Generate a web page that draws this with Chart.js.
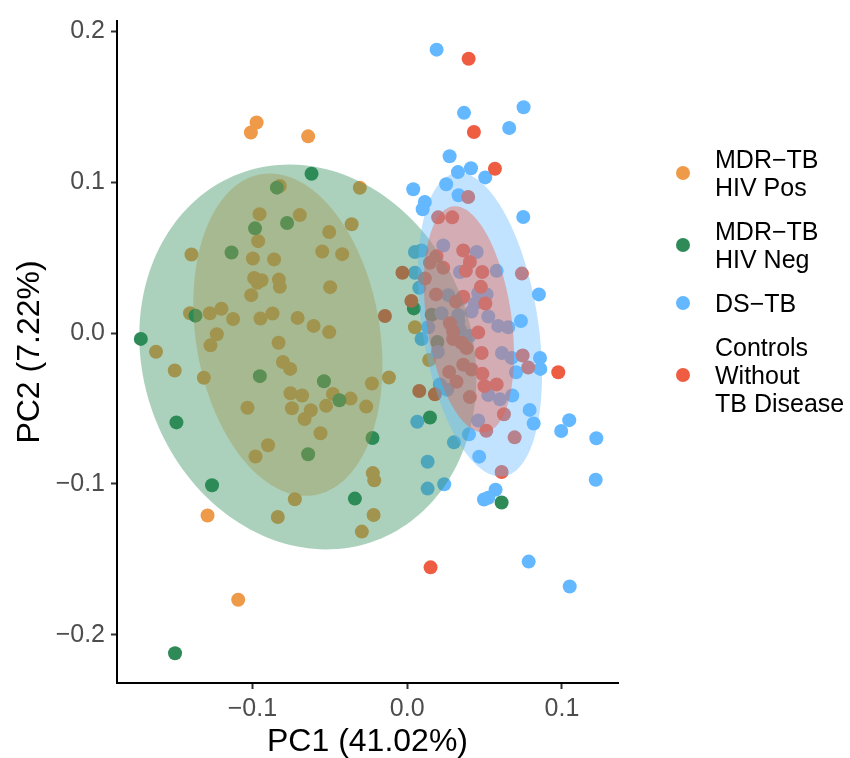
<!DOCTYPE html>
<html>
<head>
<meta charset="utf-8">
<script src="https://cdn.jsdelivr.net/npm/chart.js@4.4.0/dist/chart.umd.min.js"></script>
<style>
  body { margin: 0; background: #fff; }
  #wrap { position: relative; width: 850px; height: 758px; }
  #legend { position: absolute; left: 676px; top: 145px; font-family: "Liberation Sans", Arial, sans-serif; font-size: 25px; color: #000; }
  .row { display: flex; align-items: center; margin-bottom: 16px; }
  .dot { width: 14px; height: 14px; border-radius: 50%; margin-right: 25px; flex: none; }
  .txt { line-height: 28px; white-space: pre-line; }
</style>
</head>
<body>
<div id="wrap">
  <canvas id="myChart" width="850" height="758"></canvas>
  <div id="legend"></div>
</div>
<script>
// groups, in legend order
const groupNames = ['MDR−TB\nHIV Pos', 'MDR−TB\nHIV Neg', 'DS−TB', 'Controls\nWithout\nTB Disease'];
const groupColors = ['#EE9A49', '#2E8B57', '#63B8FF', '#EE5C42'];

// axis ticks
const xTickValues = [-0.1, 0.0, 0.1];
const xTickLabels = ['−0.1', '0.0', '0.1'];
const yTickValues = [-0.2, -0.1, 0.0, 0.1, 0.2];
const yTickLabels = ['−0.2', '−0.1', '0.0', '0.1', '0.2'];

// PC1 / PC2 scores per group
const hivPosX = [-0.0973, -0.1010, -0.0640, -0.1290, -0.1092, -0.0306, -0.0823, -0.0954, -0.0694, -0.0359, -0.0504, -0.0963, -0.1394, -0.0549, -0.0420, -0.0997, -0.0860, -0.0989, -0.0941, -0.0967, -0.0829, -0.0823, -0.0498, -0.1008, -0.1403, -0.1275, -0.1200, -0.1125, -0.0948, -0.0870, -0.0708, -0.0605, -0.0504, -0.1230, -0.1271, -0.0831, -0.1623, -0.1502, -0.1314, -0.0803, -0.0756, -0.0228, -0.0118, -0.0754, -0.0679, -0.0480, -0.0366, -0.1032, -0.0745, -0.0623, -0.0663, -0.0524, -0.0265, -0.0560, -0.0899, -0.0980, -0.0222, -0.0213, -0.0726, -0.0836, -0.0217, -0.0293, 0.0050, 0.0142];
const hivPosY = [0.1397, 0.1331, 0.1305, -0.1209, -0.1768, 0.0964, 0.0976, 0.0789, 0.0783, 0.0722, 0.0671, 0.0610, 0.0522, 0.0541, 0.0524, 0.0495, 0.0489, 0.0366, 0.0351, 0.0334, 0.0355, 0.0307, 0.0305, 0.0252, 0.0132, 0.0132, 0.0162, 0.0094, 0.0097, 0.0130, 0.0101, 0.0048, 0.0007, -0.0007, -0.0081, -0.0064, -0.0123, -0.0248, -0.0296, -0.0191, -0.0237, -0.0334, -0.0294, -0.0399, -0.0413, -0.0403, -0.0434, -0.0495, -0.0498, -0.0511, -0.0570, -0.0482, -0.0487, -0.0664, -0.0743, -0.0818, -0.0928, -0.0976, -0.1101, -0.1219, -0.1206, -0.1316, 0.0039, -0.0178];

const hivNegX = [-0.0618, -0.1721, -0.1491, -0.1261, -0.1500, -0.0338, -0.0224, 0.0147, 0.0610, 0.0043, -0.0842, -0.0983, -0.0776, -0.1135, -0.1368, -0.0952, -0.0538, -0.0438, -0.0640, 0.0158, 0.0195];
const hivNegY = [0.1057, -0.0038, -0.0592, -0.1009, -0.2123, -0.1097, -0.0695, -0.0559, -0.1123, 0.0164, 0.0965, 0.0695, 0.0730, 0.0535, 0.0116, -0.0285, -0.0319, -0.0445, -0.0803, 0.0122, -0.0059];

const dsX = [0.0190, 0.0367, 0.0752, 0.0659, 0.0274, 0.0328, 0.0412, 0.0504, 0.0039, 0.0252, 0.0114, 0.0100, 0.0332, 0.0750, 0.0851, 0.0735, 0.0858, 0.0860, 0.0703, 0.0675, 0.0791, 0.0817, 0.0995, 0.1047, 0.1222, 0.0679, 0.0065, 0.0302, 0.0399, 0.0465, 0.0132, 0.0132, 0.0239, 0.0571, 0.0496, 0.0524, 0.0785, 0.1050, 0.1218, 0.0050, 0.0093, 0.0050, 0.0078, 0.0093, 0.0233, 0.0449, 0.0341, 0.0578, 0.0265, 0.0352, 0.0459, 0.0513, 0.0438, 0.0222, 0.0330, 0.0524, 0.0416, 0.0330, 0.0588, 0.0653, 0.0136, 0.0405, 0.0341, 0.0612, 0.0211, 0.0259, 0.0524, 0.0599, 0.0459, 0.0198];
const dsY = [0.1880, 0.1461, 0.1498, 0.1360, 0.1173, 0.1068, 0.1094, 0.1033, 0.0954, 0.0987, 0.0870, 0.0822, 0.0914, 0.0770, 0.0257, 0.0081, -0.0164, -0.0237, -0.0259, -0.0164, -0.0509, -0.0599, -0.0649, -0.0577, -0.0697, -0.0413, -0.0588, -0.0724, -0.0671, -0.0819, -0.0853, -0.1031, -0.1002, -0.1038, -0.1103, -0.1092, -0.1515, -0.1680, -0.0972, 0.0538, 0.0548, 0.0401, 0.0301, -0.0039, 0.0581, 0.0538, 0.0406, 0.0413, 0.0252, 0.0230, 0.0266, 0.0257, 0.0197, 0.0132, 0.0120, 0.0110, 0.0143, 0.0077, 0.0048, 0.0039, 0.0039, -0.0018, 0.0022, -0.0132, -0.0340, -0.0375, -0.0410, -0.0439, -0.0579, -0.0125];

const ctrlX = [0.0397, 0.0431, 0.0567, 0.0394, 0.0200, 0.0291, 0.0362, 0.0189, 0.0147, 0.0233, 0.0405, 0.0379, 0.0485, 0.0741, -0.0031, 0.0114, 0.0186, 0.0476, 0.0505, 0.0362, 0.0315, 0.0027, 0.0276, -0.0144, 0.0297, 0.0352, 0.0459, 0.0481, 0.0746, 0.0782, 0.0976, 0.0271, 0.0319, 0.0362, 0.0416, 0.0486, 0.0499, 0.0578, 0.0078, 0.0179, 0.0405, 0.0625, 0.0511, 0.0694, 0.0610, 0.0151, 0.0384, 0.0297];
const ctrlY = [0.1820, 0.1334, 0.1090, 0.0903, 0.0768, 0.0768, 0.0548, 0.0510, 0.0467, 0.0434, 0.0472, 0.0413, 0.0406, 0.0395, 0.0401, 0.0362, 0.0257, 0.0307, 0.0197, 0.0241, 0.0209, 0.0214, 0.0066, 0.0114, -0.0039, -0.0066, 0.0005, -0.0132, -0.0148, -0.0228, -0.0259, -0.0257, -0.0322, -0.0209, -0.0241, -0.0270, -0.0351, -0.0340, -0.0384, -0.0406, -0.0424, -0.0538, -0.0647, -0.0691, -0.0921, -0.1553, -0.0099, 0.0011];

// confidence ellipses per group: centre, half extent in x / y, correlation
const ellipseCx = [-0.0771, -0.0642, 0.0470, 0.0399];
const ellipseCy = [-0.0010, -0.0158, 0.0056, 0.0092];
const ellipseSx = [0.0611, 0.1089, 0.0401, 0.0291];
const ellipseSy = [0.1069, 0.1276, 0.1007, 0.0750];
const ellipseR = [-0.19, -0.11, -0.33, -0.31];

const groupX = [hivPosX, hivNegX, dsX, ctrlX];
const groupY = [hivPosY, hivNegY, dsY, ctrlY];
const FONT = '"Liberation Sans", Arial, sans-serif';

// draws the ellipses over the points, like the stat_ellipse layer
const ellipsePlugin = {
    id: 'ellipses',
    afterDatasetsDraw(chart) {
        const {ctx, chartArea, scales: {x, y}} = chart;
        ctx.save();
        ctx.beginPath();
        ctx.rect(chartArea.left, chartArea.top, chartArea.width, chartArea.height);
        ctx.clip();
        ellipseCx.forEach((cx, i) => {
            const sx = ellipseSx[i], sy = ellipseSy[i], r = ellipseR[i];
            ctx.beginPath();
            for (let k = 0; k <= 180; k++) {
                const t = k / 180 * 2 * Math.PI;
                const vx = cx + sx * Math.cos(t);
                const vy = ellipseCy[i] + sy * (r * Math.cos(t) + Math.sqrt(1 - r * r) * Math.sin(t));
                const px = x.getPixelForValue(vx), py = y.getPixelForValue(vy);
                if (k === 0) ctx.moveTo(px, py); else ctx.lineTo(px, py);
            }
            ctx.closePath();
            ctx.globalAlpha = 0.4;
            ctx.fillStyle = groupColors[i];
            ctx.fill();
        });
        ctx.restore();
    }
};

const buildDataset = (i) => ({
    label: groupNames[i].replace(/\n/g, ' '),
    data: groupX[i].map((v, k) => ({x: v, y: groupY[i][k]})),
    backgroundColor: groupColors[i],
    borderWidth: 0,
    pointRadius: 7,
    pointHoverRadius: 7,
    order: groupNames.length - i
});

const axisGrid = {drawOnChartArea: false, drawTicks: true, tickLength: 6, tickWidth: 2, tickColor: '#333333', color: 'rgba(0,0,0,0)'};
const axisBorder = {display: true, color: '#000000', width: 2};

const ctx = document.getElementById('myChart').getContext('2d');
const myChart = new Chart(ctx, {
    type: 'scatter',
    data: {datasets: groupNames.map((n, i) => buildDataset(i))},
    plugins: [ellipsePlugin],
    options: {
        responsive: false,
        animation: false,
        events: [],
        layout: {padding: {top: 15, right: 232, bottom: 0, left: 0}},
        plugins: {legend: {display: false}, tooltip: {enabled: false}},
        scales: {
            x: {
                type: 'linear',
                min: -0.1875,
                max: 0.1362,
                afterBuildTicks: s => { s.ticks = xTickValues.map(v => ({value: v})); },
                afterFit: s => { s.height = 75; },
                ticks: {callback: (v, i) => xTickLabels[i], color: '#4D4D4D', font: {size: 25, family: FONT}, padding: 5, maxRotation: 0, autoSkip: false},
                grid: axisGrid,
                border: axisBorder,
                title: {display: true, text: 'PC1 (41.02%)', color: '#000', font: {size: 32, family: FONT, lineHeight: 1.0}, padding: {top: 0, bottom: 0}}
            },
            y: {
                type: 'linear',
                min: -0.232,
                max: 0.207,
                afterBuildTicks: s => { s.ticks = yTickValues.map(v => ({value: v})); },
                afterFit: s => { s.width = 117; },
                ticks: {callback: (v, i) => yTickLabels[i], color: '#4D4D4D', font: {size: 25, family: FONT}, padding: 6, autoSkip: false},
                grid: axisGrid,
                border: axisBorder,
                title: {display: true, text: 'PC2 (7.22%)', color: '#000', font: {size: 32, family: FONT, lineHeight: 1.0}, padding: {top: 14, bottom: 0}}
            }
        }
    }
});

// legend with multi-line labels
const legend = document.getElementById('legend');
groupNames.forEach((name, i) => {
    const row = document.createElement('div');
    row.className = 'row';
    const dot = document.createElement('div');
    dot.className = 'dot';
    dot.style.background = groupColors[i];
    const txt = document.createElement('div');
    txt.className = 'txt';
    txt.textContent = name;
    row.appendChild(dot);
    row.appendChild(txt);
    legend.appendChild(row);
});
</script>
</body>
</html>
